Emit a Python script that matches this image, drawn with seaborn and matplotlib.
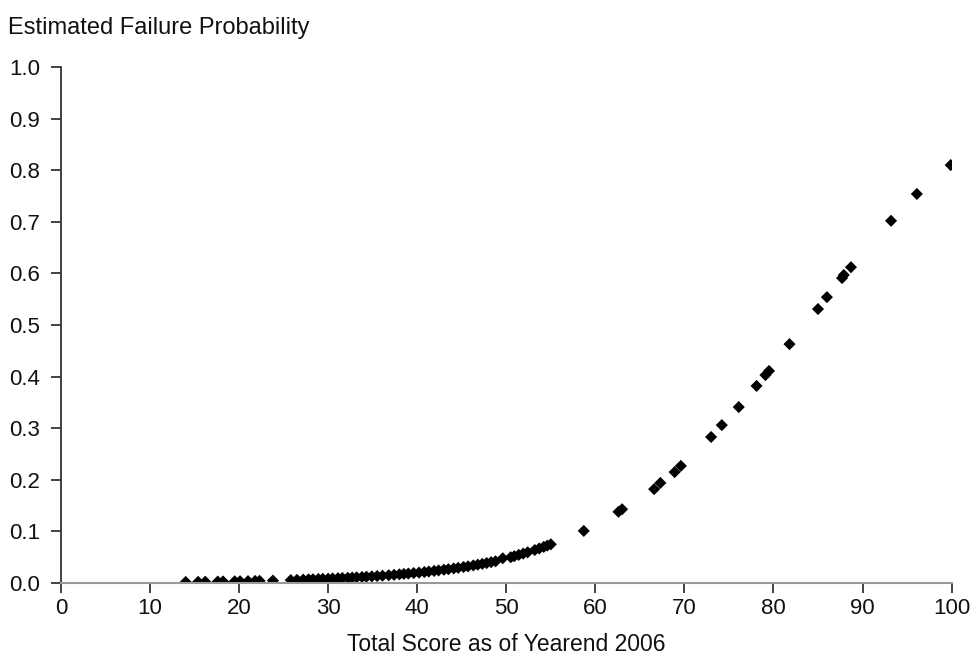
import pandas as pd
import numpy as np
import matplotlib
matplotlib.use('Agg')
import matplotlib.pyplot as plt
import seaborn as sns

# Scores and estimated failure probabilities
score_low = [14.0, 15.4, 16.2, 17.6, 18.2, 19.5, 20.1, 21.0, 21.8, 22.3, 23.8]
prob_low = [0.002, 0.0023, 0.0025, 0.0028, 0.003, 0.0033, 0.0035, 0.0037, 0.004, 0.0042, 0.0047]

score_mid = [25.8, 26.5, 27.2, 27.8, 28.3, 28.9, 29.4, 30.0, 30.5, 31.1, 31.6, 32.2,
             32.7, 33.2, 33.8, 34.3, 34.9, 35.5, 36.1, 36.8, 37.4, 38.0, 38.5, 39.0,
             39.6, 40.2, 40.8, 41.3, 41.9, 42.4, 43.0, 43.5, 44.1, 44.6, 45.2, 45.7,
             46.3, 46.8, 47.3, 47.8, 48.3, 48.8, 49.6, 50.5, 50.9, 51.4, 51.9, 52.4,
             53.2, 53.7, 54.2, 54.6, 55.0]
prob_mid = [0.0057, 0.0061, 0.0066, 0.0070, 0.0073, 0.0078, 0.0081, 0.0083, 0.0088, 0.0093, 0.0097, 0.0101,
            0.0106, 0.0110, 0.0117, 0.0122, 0.0128, 0.0135, 0.0142, 0.0151, 0.0159, 0.0168, 0.0176, 0.0183,
            0.0193, 0.0202, 0.0213, 0.0222, 0.0234, 0.0244, 0.0257, 0.0268, 0.0282, 0.0294, 0.0310, 0.0323,
            0.0341, 0.0356, 0.0371, 0.0387, 0.0404, 0.0421, 0.0480, 0.0500, 0.0520, 0.0545, 0.0570, 0.0595,
            0.0640, 0.0670, 0.0700, 0.0725, 0.0750]

score_high = [58.7, 62.6, 63.0, 66.6, 67.3, 68.9, 69.6, 73.0, 74.2, 76.1, 78.1, 79.1,
              79.5, 81.8, 85.0, 86.0, 87.7, 87.9, 88.7, 93.2, 96.1, 99.9]
prob_high = [0.101, 0.138, 0.143, 0.182, 0.194, 0.215, 0.227, 0.283, 0.306, 0.341, 0.382, 0.403,
             0.411, 0.463, 0.531, 0.554, 0.591, 0.597, 0.612, 0.702, 0.754, 0.810]

df = pd.DataFrame({
    'score': score_low + score_mid + score_high,
    'prob': prob_low + prob_mid + prob_high,
})

x_ticks = list(range(0, 101, 10))
y_ticks = [0.0, 0.1, 0.2, 0.3, 0.4, 0.5, 0.6, 0.7, 0.8, 0.9, 1.0]

sns.set_style('ticks')
plt.rcParams['font.family'] = ['Liberation Sans', 'DejaVu Sans']

fig = plt.figure(figsize=(9.74, 6.57), dpi=100)
ax = fig.add_axes([0.0626, 0.1126, 0.9144, 0.7854])

sns.scatterplot(data=df, x='score', y='prob', marker='D', color='black',
                edgecolor='none', s=38, ax=ax, legend=False)

ax.set_xlim(0, 100)
ax.set_ylim(0, 1.0)
ax.set_xticks(x_ticks)
ax.set_yticks(y_ticks)
ax.set_yticklabels([f'{v:.1f}' for v in y_ticks])
ax.tick_params(axis='both', labelsize=16, length=7, width=1.2, color='#222222', labelcolor='#111111')
ax.tick_params(axis='x', pad=4)
ax.tick_params(axis='y', pad=8)

sns.despine(ax=ax)
ax.spines['left'].set_color('#333333')
ax.spines['left'].set_linewidth(1.3)
ax.spines['bottom'].set_color('#999999')
ax.spines['bottom'].set_linewidth(1.5)

ax.set_xlabel('Total Score as of Yearend 2006', fontsize=16.5, labelpad=10, color='#111111')
ax.set_ylabel('')
fig.text(0.008, 0.957, 'Estimated Failure Probability', fontsize=17, ha='left', va='center',
         color='#111111')

plt.savefig('out.png', dpi=100)
